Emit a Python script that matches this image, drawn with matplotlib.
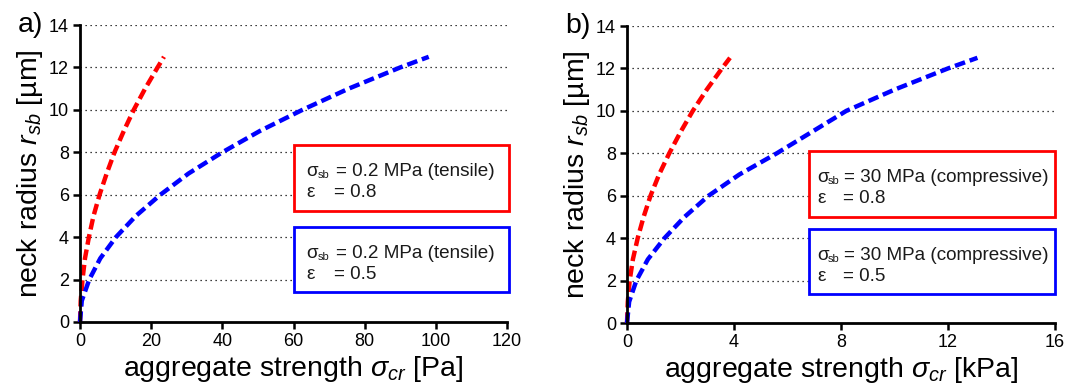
import matplotlib
matplotlib.use("Agg")
import matplotlib.pyplot as plt
from matplotlib.patches import Rectangle
from matplotlib.transforms import ScaledTranslation

plt.rcParams['font.family'] = ['Liberation Sans', 'DejaVu Sans']
plt.rcParams['mathtext.fontset'] = 'custom'
plt.rcParams['mathtext.rm'] = 'Liberation Sans'
plt.rcParams['mathtext.it'] = 'Liberation Sans:italic'
plt.rcParams['mathtext.bf'] = 'Liberation Sans:bold'

# neck radius values (µm) shared by all curves
radius = [0, 1, 2, 3, 4, 5, 6, 7, 8, 9, 10, 11, 12, 12.5]

# panel a) aggregate strength [Pa]
a_red_x = [0, 0.2, 0.7, 1.4, 2.5, 3.8, 5.5, 7.5, 9.7, 12.3, 15.1, 18.3, 21.8, 23.6]
a_blue_x = [0, 0.5, 2.6, 5.7, 10.1, 15.7, 22.6, 30.5, 40.0, 50.5, 62.5, 75.5, 90.0, 98.0]

# panel b) aggregate strength [kPa]
b_red_x = [0, 0.03, 0.1, 0.22, 0.4, 0.62, 0.88, 1.2, 1.58, 2.0, 2.46, 2.98, 3.55, 3.85]
b_blue_x = [0, 0.08, 0.35, 0.78, 1.4, 2.15, 3.05, 4.2, 5.6, 6.9, 8.2, 10.0, 12.0, 13.1]

a_xticks = [0, 20, 40, 60, 80, 100, 120]
b_xticks = [0, 4, 8, 12, 16]
yticks = [0, 2, 4, 6, 8, 10, 12, 14]

a_stress = '= 0.2 MPa (tensile)'
b_stress = '= 30 MPa (compressive)'
eps_labels = ['= 0.8', '= 0.5']

fig = plt.figure(figsize=(10.67, 3.89), dpi=100)
ax1 = fig.add_axes([80/1067, 1-322/389, 427/1067, 297/389])
ax2 = fig.add_axes([627/1067, 1-323/389, 428/1067, 297/389])

RED = '#FF0000'
BLUE = '#0000FF'


def style(ax, xticks, xlabel, panel):
    ax.set_xlim(xticks[0], xticks[-1])
    ax.set_ylim(0, 14)
    ax.set_xticks(xticks)
    ax.set_yticks(yticks)
    for s in ['top', 'right']:
        ax.spines[s].set_visible(False)
    for s in ['left', 'bottom']:
        ax.spines[s].set_linewidth(2)
    ax.tick_params(axis='both', direction='out', length=5, width=1.8,
                   labelsize=13, pad=3)
    ax.yaxis.grid(True, linestyle=(0, (1, 3)), color='black', linewidth=0.9)
    ax.set_axisbelow(True)
    ax.set_xlabel(xlabel, fontsize=20.5, labelpad=3)
    ax.set_ylabel(r'neck radius $r_{sb}$ [µm]', fontsize=20.5, labelpad=3)
    ax.text(-0.145, 1.0, panel, transform=ax.transAxes, fontsize=20.5,
            ha='left', va='center')


def box(ax, x0, x1, y0, y1, col, stress, eps, sx, ex1, ex2):
    ax.add_patch(Rectangle((x0, y0), x1 - x0, y1 - y0, fill=True, facecolor='white',
                           edgecolor=col, lw=2, clip_on=False, zorder=5))

    def off(dx, dy):
        return ax.transData + ScaledTranslation(dx / 100, -dy / 100, fig.dpi_scale_trans)

    kw = dict(va='baseline', ha='left', zorder=6, color='#1a1a1a')
    ax.text(x0, y1, 'σ', transform=off(sx, 31), fontsize=13.6, **kw)
    ax.text(x0, y1, 'sb', transform=off(sx + 11, 33), fontsize=8, **kw)
    ax.text(x0, y1, stress, transform=off(ex1, 31), fontsize=13.6, **kw)
    ax.text(x0, y1, 'ε', transform=off(sx, 52), fontsize=13.6, **kw)
    ax.text(x0, y1, eps, transform=off(ex2, 52), fontsize=13.6, **kw)


# panel a
ax1.plot(a_red_x, radius, color=RED, lw=3.2, linestyle=(0, (2.4, 1.1)), clip_on=False)
ax1.plot(a_blue_x, radius, color=BLUE, lw=3.2, linestyle=(0, (2.4, 1.1)), clip_on=False)
style(ax1, a_xticks, r'aggregate strength $\sigma_{cr}$ [Pa]', 'a)')
box(ax1, 60, 120.6, 5.24, 8.35, RED, a_stress, eps_labels[0], 13, 42, 40)
box(ax1, 60, 120.6, 1.42, 4.48, BLUE, a_stress, eps_labels[1], 13, 42, 40)

# panel b
ax2.plot(b_red_x, radius, color=RED, lw=3.2, linestyle=(0, (2.4, 1.1)), clip_on=False)
ax2.plot(b_blue_x, radius, color=BLUE, lw=3.2, linestyle=(0, (2.4, 1.1)), clip_on=False)
style(ax2, b_xticks, r'aggregate strength $\sigma_{cr}$ [kPa]', 'b)')
box(ax2, 6.8, 16.0, 4.98, 8.1, RED, b_stress, eps_labels[0], 8, 35, 34)
box(ax2, 6.8, 16.0, 1.37, 4.45, BLUE, b_stress, eps_labels[1], 8, 35, 34)

fig.savefig('out.png', dpi=100)
